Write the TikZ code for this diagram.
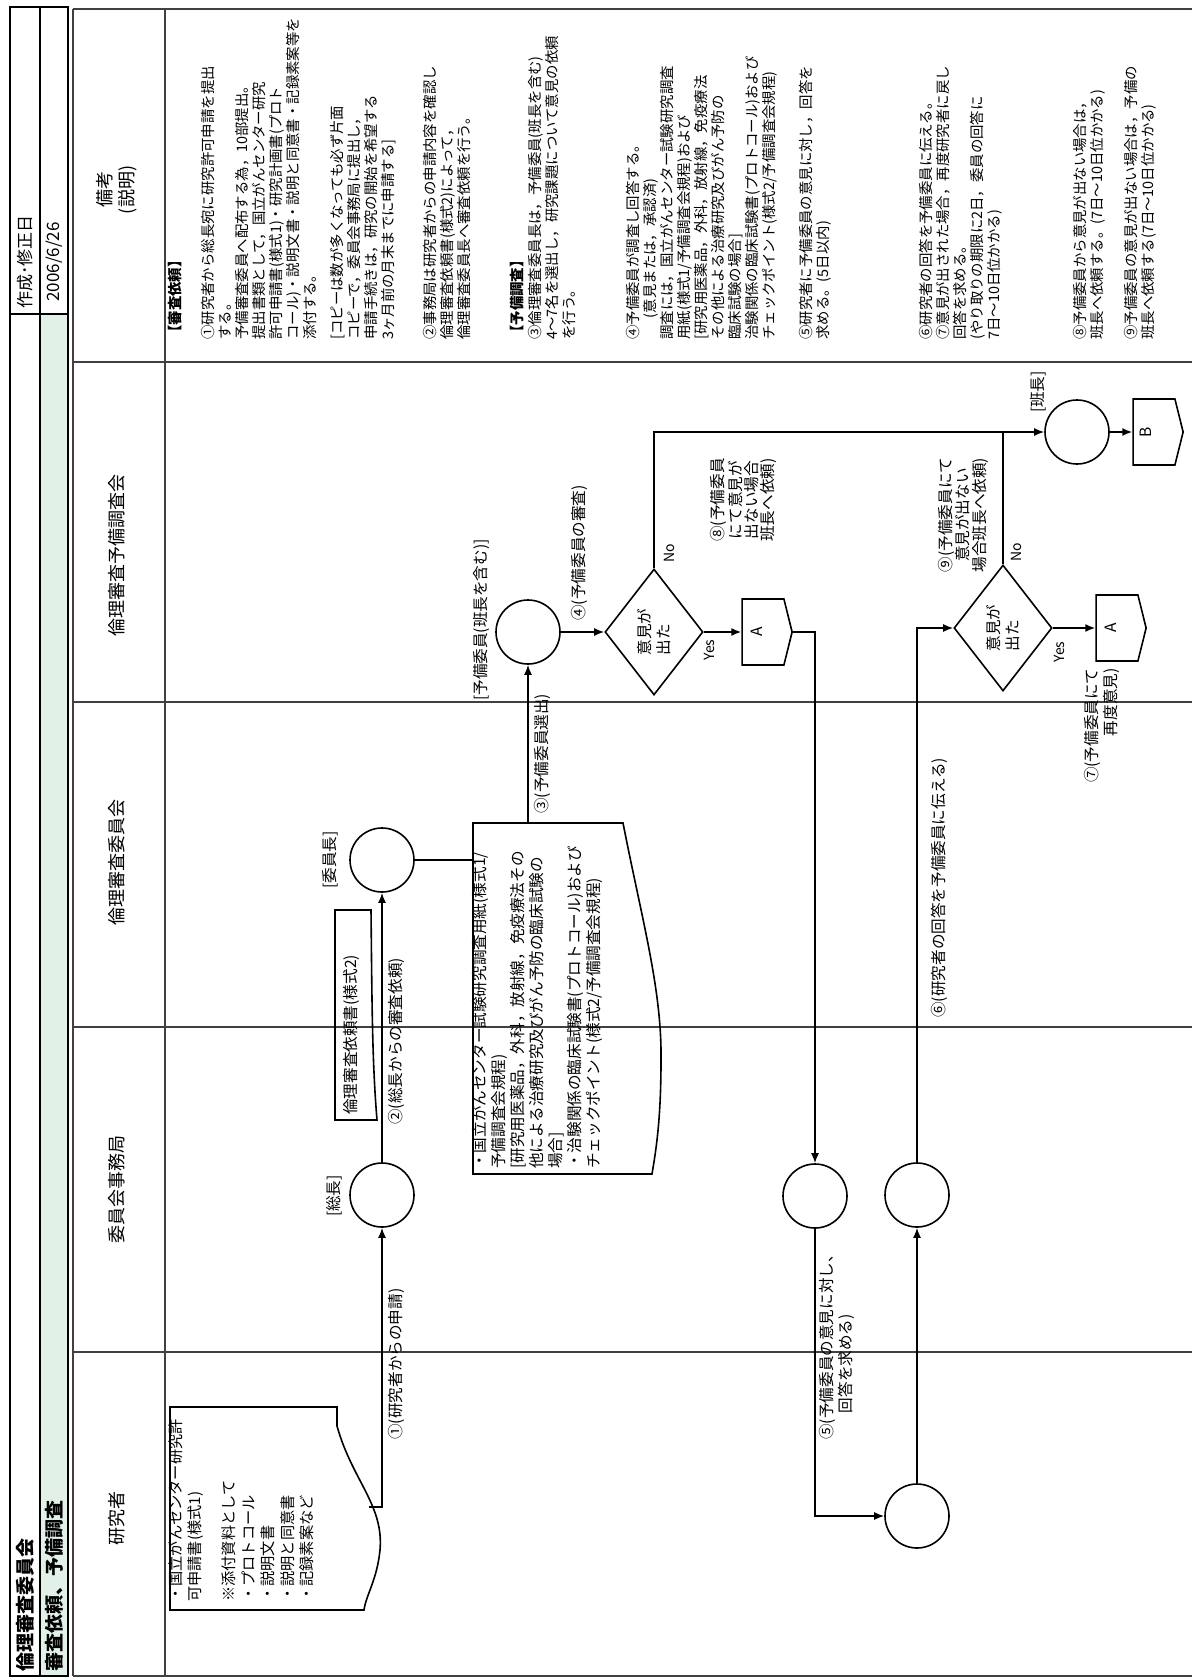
\documentclass[tikz,border=0pt]{standalone}
\usepackage{fontspec}
\setmainfont{Noto Sans CJK JP}
\usepackage{tikz}
\usetikzlibrary{arrows.meta,shapes.geometric,shapes.symbols}
\definecolor{headmint}{RGB}{226,241,232}

\begin{document}
\begin{tikzpicture}[x=0.5pt,y=-0.5pt,
  stage/.style={circle,draw,thick,minimum size=32pt,inner sep=0pt},
  decision/.style={diamond,draw,thick,minimum width=49pt,minimum height=63pt,inner sep=0pt},
  offpage/.style={signal,signal to=east,signal pointer angle=152,draw,thick,minimum width=25pt,minimum height=33pt,inner sep=0pt},
  vtext/.style={rotate=90,inner sep=0pt,font=\fontsize{7.8}{9.4}\selectfont},
  vblock/.style={vtext,align=left,anchor=north west},
  note/.style={rotate=90,inner sep=0pt,align=left,anchor=north west,font=\fontsize{7.2}{8.5}\selectfont},
  lanehead/.style={rotate=90,inner sep=0pt,font=\fontsize{9}{11}\selectfont},
  lane/.style={black!75,line width=0.6pt},
  arrow/.style={-{Latex[length=5pt,width=4pt]},thick}
]
  \useasboundingbox (0,0) rectangle (1192,1680);

  % title strip
  \fill[headmint] (40,314) rectangle (68,1676);
  \draw[thick] (10,7) rectangle (68,1676);
  \draw[thick] (40,7) -- (40,1676);
  \draw[thick] (10,314) -- (68,314);
  \node[lanehead,font=\fontsize{8.5}{10}\selectfont] (made) at (25,262) {作成･修正日};
  \node[lanehead,font=\fontsize{8.5}{10}\selectfont] (date) at (54,262) {2006/6/26};
  \node[lanehead,anchor=west,font=\bfseries\fontsize{9.5}{11}\selectfont] (title) at (25,1672) {倫理審査委員会};
  \node[lanehead,anchor=west,font=\bfseries\fontsize{9.5}{11}\selectfont] (subtitle) at (54,1672) {審査依頼、予備調査};

  % lanes
  \draw[lane] (73,9) -- (1192,9);
  \draw[lane] (73,1676) -- (1192,1676);
  \draw[lane] (73,9) -- (73,1676);
  \draw[lane] (165,9) -- (165,1676);
  \foreach \y in {362,702,1027,1352}
    \draw[lane] (73,\y) -- (1192,\y);
  \node[lanehead,align=center] (hnote) at (117,190) {備考\\(説明)};
  \node[lanehead] (hpre) at (117,555) {倫理審査予備調査会};
  \node[lanehead] (hcom) at (117,862) {倫理審査委員会};
  \node[lanehead] (hsec) at (117,1189) {委員会事務局};
  \node[lanehead] (hres) at (117,1518) {研究者};

  % notes
  \node[note,font=\bfseries\fontsize{7.2}{8.5}\selectfont] (n1) at (168,340) {【審査依頼】};
  \node[note] (n2) at (201,340) {①研究者から総長宛に研究許可申請を提出\\する。\\予備審査委員へ配布する為，10部提出。\\提出書類として，国立がんセンター研究\\許可申請書(様式1)・研究計画書(プロト\\コール)・説明文書・説明と同意書・記録素案等を\\添付する。};
  \node[note] (n3) at (330,340) {[コピーは数が多くなっても必ず片面\\コピーで，委員会事務局に提出し，\\申請手続きは，研究の開始を希望する\\3ヶ月前の月末までに申請する]};
  \node[note] (n4) at (423,340) {②事務局は研究者からの申請内容を確認し\\倫理審査依頼書(様式2)によって，\\倫理審査委員長へ審査依頼を行う。};
  \node[note,font=\bfseries\fontsize{7.2}{8.5}\selectfont] (n5) at (510,340) {【予備調査】};
  \node[note] (n6) at (528,340) {③倫理審査委員長は，予備委員(班長を含む)\\4～7名を選出し，研究課題について意見の依頼\\を行う。};
  \node[note] (n7) at (626,340) {④予備委員が調査し回答する。\\\hspace*{1.5em}(意見または，承認済)\\調査には，国立がんセンター試験研究調査\\用紙(様式1/予備調査会規程)および\\{}[研究用医薬品，外科，放射線，免疫療法\\その他による治療研究及びがん予防の\\臨床試験の場合]\\治験関係の臨床試験書(プロトコール)および\\チェックポイント(様式2/予備調査会規程)};
  \node[note] (n8) at (799,340) {⑤研究者に予備委員の意見に対し，回答を\\求める。(5日以内)};
  \node[note] (n9) at (919,340) {⑥研究者の回答を予備委員に伝える。\\⑦意見が出された場合，再度研究者に戻し\\回答を求める。\\(やり取りの期限に2日，委員の回答に\\7日～10日位かかる)};
  \node[note] (n10) at (1073,340) {⑧予備委員から意見が出ない場合は，\\班長へ依頼する。(7日～10日位かかる)};
  \node[note] (n11) at (1124,340) {⑨予備委員の意見が出ない場合は，予備の\\班長へ依頼する(7日～10日位かかる)};

  % documents
  \draw[thick] (170,1407) -- (337,1407) -- (337,1426) .. controls (352,1480) and (384,1505) .. (380,1550) .. controls (377,1580) and (366,1595) .. (364,1610) -- (170,1610) -- cycle;
  \node[vblock,font=\fontsize{7.6}{9.8}\selectfont] (apptext) at (168,1602) {・国立がんセンター研究許\\可申請書(様式1)\\[7pt]※添付資料として\\・プロトコール\\・説明文書\\・説明と同意書\\・記録素案など};
  \coordinate (appout) at (369,1507);

  \draw[thick] (335,910) -- (371,910) .. controls (372,1000) and (372,1060) .. (377,1120) -- (335,1120) -- cycle;
  \node[vtext,anchor=west] (reqtext) at (351,1115) {倫理審査依頼書(様式2)};

  \draw[thick] (473,823) -- (623,823) .. controls (642,920) and (662,990) .. (661,1060) .. controls (661,1120) and (656,1150) .. (652,1174) -- (473,1174) -- cycle;
  \node[vblock,font=\fontsize{7.8}{9.5}\selectfont] (revtext) at (472,1169) {・国立がんセンター試験研究調査用紙(様式1/\\予備調査会規程)\\{}[研究用医薬品，外科，放射線，免疫療法その\\他による治療研究及びがん予防の臨床試験の\\場合]\\・治験関係の臨床試験書(プロトコール)および\\チェックポイント(様式2/予備調査会規程)};
  \coordinate (revW) at (473,860);
  \coordinate (revN) at (528,823);

  % flow nodes
  \node[stage] (chief) at (382,1195) {};
  \node[vtext] (chieflab) at (334,1196) {[総長]};
  \node[stage] (chair) at (382,860) {};
  \node[vtext] (chairlab) at (330,860) {[委員長]};
  \node[stage] (sub) at (528,632) {};
  \node[vtext] (sublab) at (481,620) {[予備委員(班長を含む)]};
  \node[decision] (dia1) at (654,632) {};
  \node[vtext,align=left] (dia1txt) at (dia1) {意見が\\出た};
  \node[offpage] (pA1) at (763,632) {};
  \node[vtext] (pA1txt) at (757,632) {A};
  \node[stage] (sec3) at (815,1196) {};
  \node[stage] (resp) at (917,1516) {};
  \node[stage] (sec4) at (917,1195) {};
  \node[decision] (dia2) at (1003,628) {};
  \node[vtext,align=left] (dia2txt) at (dia2) {意見が\\出た};
  \node[offpage] (pA2) at (1117,628) {};
  \node[vtext] (pA2txt) at (1111,628) {A};
  \node[stage] (ban) at (1077,432) {};
  \node[vtext] (banlab) at (1038,392) {[班長]};
  \node[offpage] (pB) at (1154,432) {};
  \node[vtext] (pBtxt) at (1146,432) {B};

  % connectors
  \draw[arrow] (appout) -| (chief);
  \draw[arrow] (chief) -- (chair);
  \draw[thick] (chair.east) -- (chair.east -| revW);
  \draw[arrow] (revN) -- (sub);
  \draw[arrow] (sub) -- (dia1);
  \draw[arrow] (dia1) -- (pA1);
  \draw[arrow] (pA1.east) -| (sec3);
  \draw[arrow] (sec3) |- (resp);
  \draw[arrow] (resp) -- (sec4);
  \draw[arrow] (sec4) |- (dia2);
  \draw[arrow] (dia2) -- (pA2);
  \draw[arrow] (dia1.north) |- (ban);
  \draw[thick] (dia2.north) -- (dia2.north |- ban.west);
  \draw[arrow] (ban) -- (pB);

  % connector labels
  \node[vtext,anchor=west] (l1) at (396,1440) {①(研究者からの申請)};
  \node[vtext,anchor=west] (l2) at (396,1125) {②(総長からの審査依頼)};
  \node[vtext,anchor=west] (l3) at (542,814) {③(予備委員選出)};
  \node[vtext,anchor=west] (l4) at (579,621) {④(予備委員の審査)};
  \node[vblock] (l5) at (819,1440) {⑤(予備委員の意見に対し、\\\hspace*{1.7em}回答を求める)};
  \node[vtext,anchor=west] (l6) at (939,1018) {⑥(研究者の回答を予備委員に伝える)};
  \node[vtext,align=right,anchor=north east] (l7) at (1084,668) {⑦(予備委員にて\\再度意見)};
  \node[vtext,align=center,anchor=north,font=\fontsize{7.8}{8}\selectfont] (l8) at (710,500) {⑧(予備委員\\にて意見が\\出ない場合\\班長へ依頼)};
  \node[vtext,align=center,anchor=north,font=\fontsize{7.8}{8.5}\selectfont] (l9) at (938,515) {⑨(予備委員にて\\意見が出ない\\場合班長へ依頼)};
  \node[vtext,font=\fontsize{7}{8}\selectfont] (yes1) at (709,650) {Yes};
  \node[vtext,font=\fontsize{7}{8}\selectfont] (yes2) at (1059,652) {Yes};
  \node[vtext,font=\fontsize{7}{8}\selectfont] (no1) at (669,553) {No};
  \node[vtext,font=\fontsize{7}{8}\selectfont] (no2) at (1016,552) {No};
\end{tikzpicture}
\end{document}
